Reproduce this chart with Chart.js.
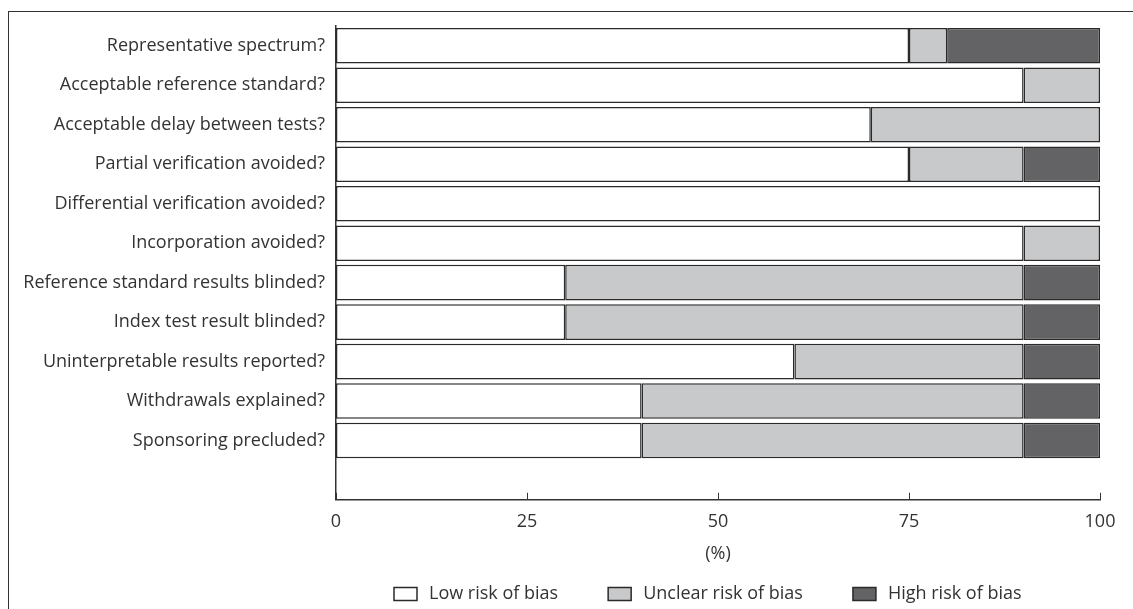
<!DOCTYPE html>
<html lang="en">
<head>
    <meta charset="UTF-8">
    <title>Risk of bias</title>
    <script src="https://cdn.jsdelivr.net/npm/chart.js"></script>
    <style>
        html, body { margin: 0; padding: 0; background: #fff; }
        #wrap { position: relative; width: 1133px; height: 609px; }
        #frame { position: absolute; left: 8px; top: 11px; right: 0; bottom: 0;
                 border-top: 1px solid #333; border-left: 1px solid #333; pointer-events: none; }
    </style>
</head>
<body>
<div id="wrap">
    <canvas id="qualityChart" width="1133" height="609"></canvas>
    <div id="frame"></div>
</div>
<script>
const categories = [
    'Representative spectrum?',
    'Acceptable reference standard?',
    'Acceptable delay between tests?',
    'Partial verification avoided?',
    'Differential verification avoided?',
    'Incorporation avoided?',
    'Reference standard results blinded?',
    'Index test result blinded?',
    'Uninterpretable results reported?',
    'Withdrawals explained?',
    'Sponsoring precluded?'
];
const lowRisk     = [75, 90, 70, 75, 100, 90, 30, 30, 60, 40, 40];
const unclearRisk = [5, 10, 30, 15, 0, 10, 60, 60, 30, 50, 50];
const highRisk    = [20, 0, 0, 10, 0, 0, 10, 10, 10, 10, 10];
const xTicks = [0, 25, 50, 75, 100];

const FONT = "'Open Sans', sans-serif";
const FSIZE = 18;
const INK = '#333';

// ticks on the x axis point inward (up into the plot)
const innerTicks = {
    id: 'innerTicks',
    afterDraw(chart) {
        const x = chart.scales.x, ctx = chart.ctx;
        const y0 = chart.chartArea.bottom;
        ctx.save();
        ctx.strokeStyle = INK;
        ctx.lineWidth = 1;
        xTicks.forEach(v => {
            const px = Math.round(x.getPixelForValue(v)) + 0.5;
            ctx.beginPath();
            ctx.moveTo(px, y0);
            ctx.lineTo(px, y0 - 7);
            ctx.stroke();
        });
        ctx.restore();
    }
};

// legend row below the axis title
const bottomLegend = {
    id: 'bottomLegend',
    afterDraw(chart) {
        const ctx = chart.ctx;
        const boxW = 23, boxH = 13, gapText = 12, gapItem = 50, yMid = 594;
        ctx.save();
        ctx.font = FSIZE + 'px ' + FONT;
        ctx.textBaseline = 'middle';
        let x = 394;
        chart.data.datasets.forEach(d => {
            ctx.fillStyle = d.backgroundColor;
            ctx.fillRect(x, yMid - boxH / 2, boxW, boxH);
            ctx.strokeStyle = '#2a2a2a';
            ctx.lineWidth = 1.5;
            ctx.strokeRect(x, yMid - boxH / 2, boxW, boxH);
            ctx.fillStyle = INK;
            ctx.fillText(d.label, x + boxW + gapText, yMid);
            x += boxW + gapText + ctx.measureText(d.label).width + gapItem;
        });
        ctx.restore();
    }
};

const ctx = document.getElementById('qualityChart').getContext('2d');
new Chart(ctx, {
    type: 'bar',
    data: {
        labels: categories.concat(['']),
        datasets: [
            { label: 'Low risk of bias', data: lowRisk, backgroundColor: '#ffffff' },
            { label: 'Unclear risk of bias', data: unclearRisk, backgroundColor: '#c8c9cb' },
            { label: 'High risk of bias', data: highRisk, backgroundColor: '#636365' }
        ].map(d => Object.assign(d, {
            borderColor: '#2a2a2a', borderWidth: 1.5, borderSkipped: false,
            barPercentage: 0.9, categoryPercentage: 1
        }))
    },
    plugins: [innerTicks, bottomLegend],
    options: {
        indexAxis: 'y',
        responsive: false,
        animation: false,
        layout: { padding: { top: 26, right: 33, bottom: 44, left: 0 } },
        plugins: {
            tooltip: { enabled: false },
            legend: { display: false }
        },
        scales: {
            x: {
                stacked: true,
                min: 0, max: 100,
                afterBuildTicks: s => { s.ticks = xTicks.map(v => ({ value: v })); },
                grid: { display: false, drawTicks: false },
                border: { display: true, color: INK, width: 1.5 },
                ticks: { color: INK, font: { family: FONT, size: FSIZE }, padding: 11 },
                title: { display: true, text: '(%)', color: INK, font: { family: FONT, size: FSIZE }, padding: { top: 0, bottom: 0 } }
            },
            y: {
                stacked: true,
                afterFit: s => { s.width = 336; },
                grid: { display: false, drawTicks: false },
                border: { display: true, color: INK, width: 1.5 },
                ticks: { color: INK, font: { family: FONT, size: FSIZE }, padding: 11, autoSkip: false }
            }
        }
    }
});
</script>
</body>
</html>
